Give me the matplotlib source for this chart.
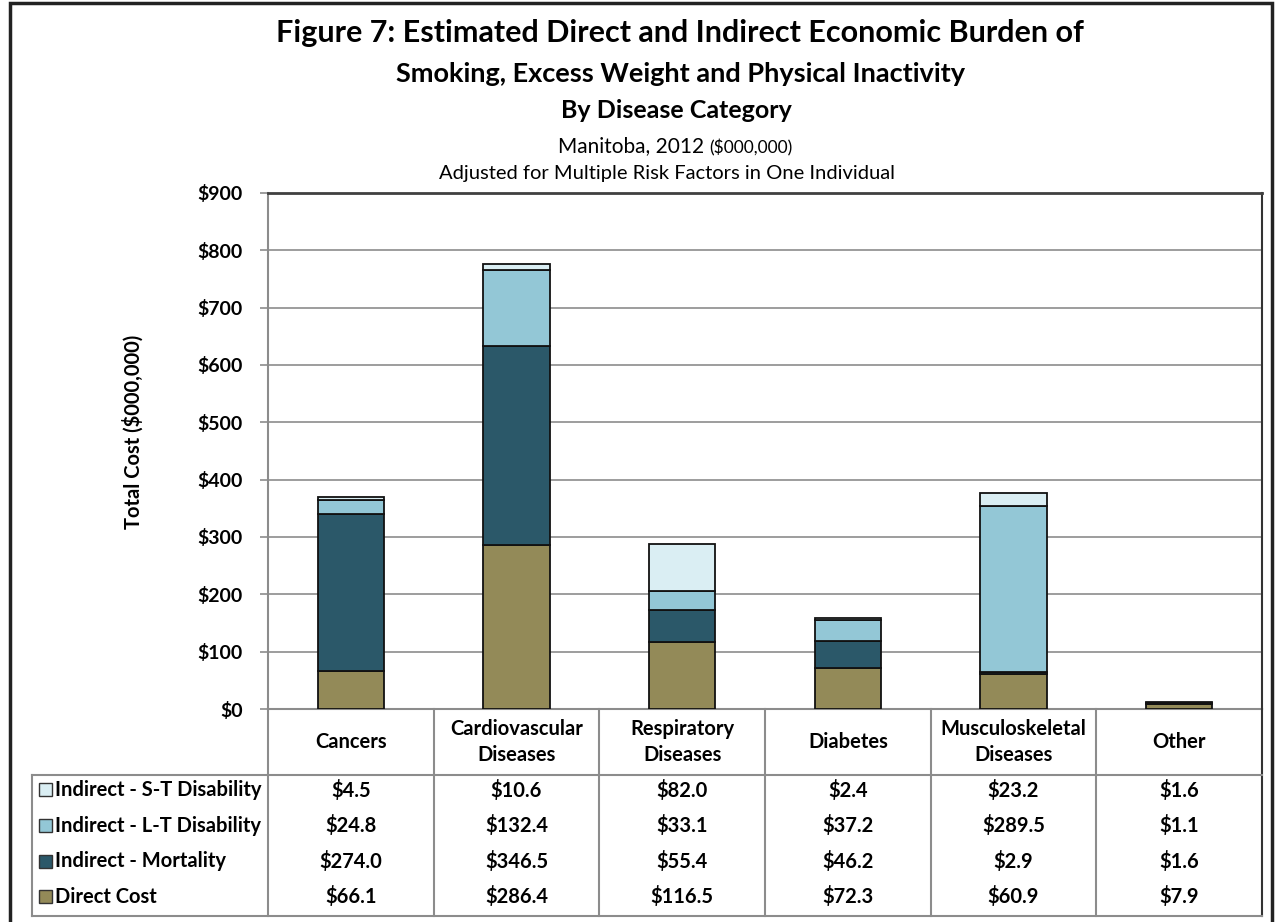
import numpy as np
import matplotlib.pyplot as plt
from matplotlib.patches import Rectangle

plt.rcParams['font.family'] = ['Lato', 'DejaVu Sans']

# Data ($000,000)
categories = ['Cancers', 'Cardiovascular\nDiseases', 'Respiratory\nDiseases',
              'Diabetes', 'Musculoskeletal\nDiseases', 'Other']
direct = [66.1, 286.4, 116.5, 72.3, 60.9, 7.9]
mortality = [274.0, 346.5, 55.4, 46.2, 2.9, 1.6]
lt_disability = [24.8, 132.4, 33.1, 37.2, 289.5, 1.1]
st_disability = [4.5, 10.6, 82.0, 2.4, 23.2, 1.6]

series_names = ['Direct Cost', 'Indirect - Mortality',
                'Indirect - L-T Disability', 'Indirect - S-T Disability']
series_vals = [direct, mortality, lt_disability, st_disability]
colors = ['#938A58', '#2B5869', '#93C7D6', '#DAEEF3']

W, H = 1275, 922
fig = plt.figure(figsize=(W / 100, H / 100), dpi=100)

def px_rect(x0, y0, x1, y1):
    return [x0 / W, 1 - y1 / H, (x1 - x0) / W, (y1 - y0) / H]

# outer border (bottom edge falls off the canvas)
fig.patches.append(Rectangle((10 / W, -10 / H), (1272 - 10) / W, (H - 3 + 10) / H,
                             transform=fig.transFigure, fill=False,
                             edgecolor='#222222', lw=2.5))

# titles
cx = 680 / W
fig.text(cx, 1 - 33 / H, 'Figure 7: Estimated Direct and Indirect Economic Burden of',
         ha='center', va='center', fontsize=22, fontweight='bold')
fig.text(cx, 1 - 74 / H, 'Smoking, Excess Weight and Physical Inactivity',
         ha='center', va='center', fontsize=19.5, fontweight='bold')
fig.text(cx - 4 / W, 1 - 111 / H, 'By Disease Category',
         ha='center', va='center', fontsize=18, fontweight='bold')
fig.text(704 / W, 1 - 146 / H, 'Manitoba, 2012', ha='right', va='center', fontsize=15)
fig.text(709 / W, 1 - 148 / H, '($000,000)', ha='left', va='center', fontsize=12.5)
fig.text(667 / W, 1 - 174 / H, 'Adjusted for Multiple Risk Factors in One Individual',
         ha='center', va='center', fontsize=14.5)

# main bar axes
x0_px, x1_px, top_px, bot_px = 268, 1262, 193, 709
ax = fig.add_axes(px_rect(x0_px, top_px, x1_px, bot_px))
x = np.arange(len(categories))
bottom = np.zeros(len(categories))
for name, vals, c in zip(series_names, series_vals, colors):
    ax.bar(x, vals, width=0.4, bottom=bottom, color=c, edgecolor='#111111',
           linewidth=1.3, label=name, zorder=3)
    bottom += np.array(vals)

ax.set_xlim(-0.5, len(categories) - 0.5)
ax.set_ylim(0, 900)
ax.set_yticks(np.arange(0, 901, 100))
ax.set_yticklabels(['$%d' % v for v in range(0, 901, 100)],
                   fontsize=14, fontweight='bold')
ax.set_xticks([])
ax.grid(axis='y', color='#8C8C8C', lw=1.2)
ax.tick_params(axis='y', length=6, color='#8C8C8C', pad=12, width=1.2)
for s in ['left', 'right', 'bottom']:
    ax.spines[s].set_color('#8C8C8C')
    ax.spines[s].set_linewidth(1.5)
ax.spines['right'].set_color('#333333')
ax.spines['top'].set_color('#404040')
ax.spines['top'].set_linewidth(2)
fig.text(133 / W, 1 - 432 / H, 'Total Cost ($000,000)', rotation=90,
         ha='center', va='center', fontsize=14.5, fontweight='bold')

# data table underneath
tb_left, tb_bottom = 32, 916
hdr_bottom = 775
unit = (x1_px - x0_px) / len(categories)
tax = fig.add_axes(px_rect(tb_left, bot_px, x1_px, tb_bottom))
xl = -0.5 - (x0_px - tb_left) / unit
tax.set_xlim(xl, len(categories) - 0.5)
tax.set_ylim(tb_bottom, bot_px)
tax.axis('off')
lc = '#8C8C8C'
for i in range(len(categories)):
    tax.plot([i - 0.5, i - 0.5], [bot_px, tb_bottom], color=lc, lw=1.5, clip_on=False)
tax.plot([len(categories) - 0.5] * 2, [bot_px, tb_bottom], color='#333333', lw=1.5,
         clip_on=False)
tax.plot([xl, len(categories) - 0.5], [hdr_bottom, hdr_bottom], color=lc, lw=1.5,
         clip_on=False)
tax.plot([xl, len(categories) - 0.5], [tb_bottom, tb_bottom], color=lc, lw=1.5,
         clip_on=False)
tax.plot([xl, xl], [hdr_bottom, tb_bottom], color=lc, lw=1.5, clip_on=False)

for i, cat in enumerate(categories):
    tax.text(i, 742, cat, ha='center', va='center', fontsize=14.5,
             fontweight='bold', linespacing=1.4)

row_h = 35.6
rows = list(zip(series_names, series_vals, colors))[::-1]
for r, (name, vals, c) in enumerate(rows):
    yc = 790 + row_h * r
    tax.add_patch(Rectangle((xl + 7 / unit, yc + 6.5), 13 / unit, -13, facecolor=c,
                            edgecolor='#333333', lw=1, clip_on=False))
    tax.text(xl + 23 / unit, yc, name, ha='left', va='center', fontsize=14.5,
             fontweight='bold')
    for i, v in enumerate(vals):
        tax.text(i, yc, '$%.1f' % v, ha='center', va='center', fontsize=14.5,
                 fontweight='bold')

fig.savefig('out.png', dpi=100)
